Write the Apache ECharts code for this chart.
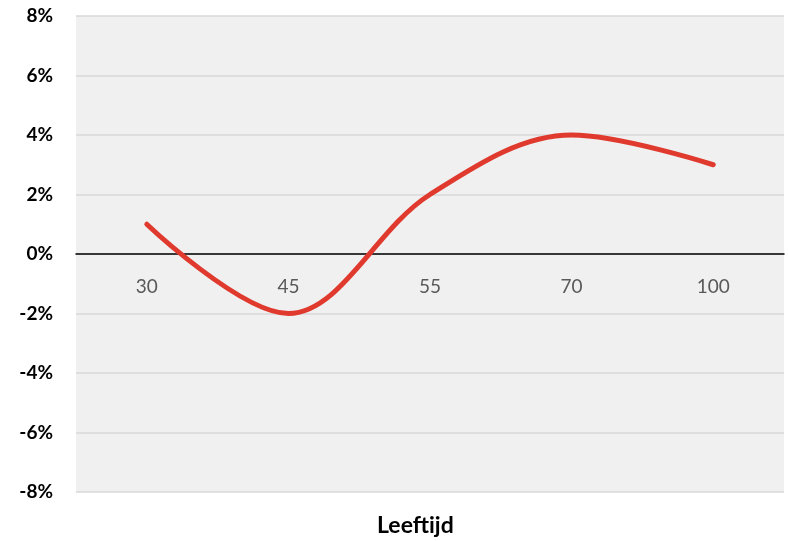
<!DOCTYPE html>
<html><head><meta charset="utf-8">
<script src="https://cdn.jsdelivr.net/npm/echarts@6/dist/echarts.min.js"></script>
<style>html,body{margin:0;padding:0;background:#fff}#c{width:788px;height:541px}</style>
</head><body><div id="c"></div>
<script>
const categories = ['30', '45', '55', '70', '100'];
const values = [0.01, -0.02, 0.02, 0.04, 0.03];
const axisName = 'Leeftijd';
const FONT = 'Lato, "Liberation Sans", sans-serif';
const chart = echarts.init(document.getElementById('c'), null, {renderer: 'canvas'});
chart.setOption({
  animation: false,
  graphic: [{type: 'text', left: 417 - 40, top: 514,
    style: {text: axisName, fontFamily: FONT, fontWeight: 'bold', fontSize: 23, fill: '#000'}}],
  grid: {left: 76, right: 4, top: 16, bottom: 49, show: true, backgroundColor: '#f0f0f0', borderWidth: 0},
  xAxis: {
    type: 'category', data: categories, boundaryGap: true,
    position: 'bottom', offset: -238,
    axisLine: {onZero: false, lineStyle: {color: '#000', width: 1.5}},
    axisTick: {show: false},
    axisLabel: {color: '#595959', fontFamily: FONT, fontSize: 19, margin: 23},
    splitLine: {show: false}
  },
  yAxis: {
    type: 'value', min: -0.08, max: 0.08, interval: 0.02,
    axisLine: {show: false}, axisTick: {show: false},
    axisLabel: {color: '#000', fontFamily: FONT, fontWeight: 'bold', fontSize: 19, margin: 23,
      formatter: v => Math.round(v * 100) + '%'},
    splitLine: {lineStyle: {color: '#d9d9d9', width: 1.5}}
  },
  series: [{
    type: 'line', data: values, smooth: 0.35, symbol: 'none',
    lineStyle: {color: '#e03a2f', width: 5, cap: 'round'}
  }]
});
</script></body></html>
